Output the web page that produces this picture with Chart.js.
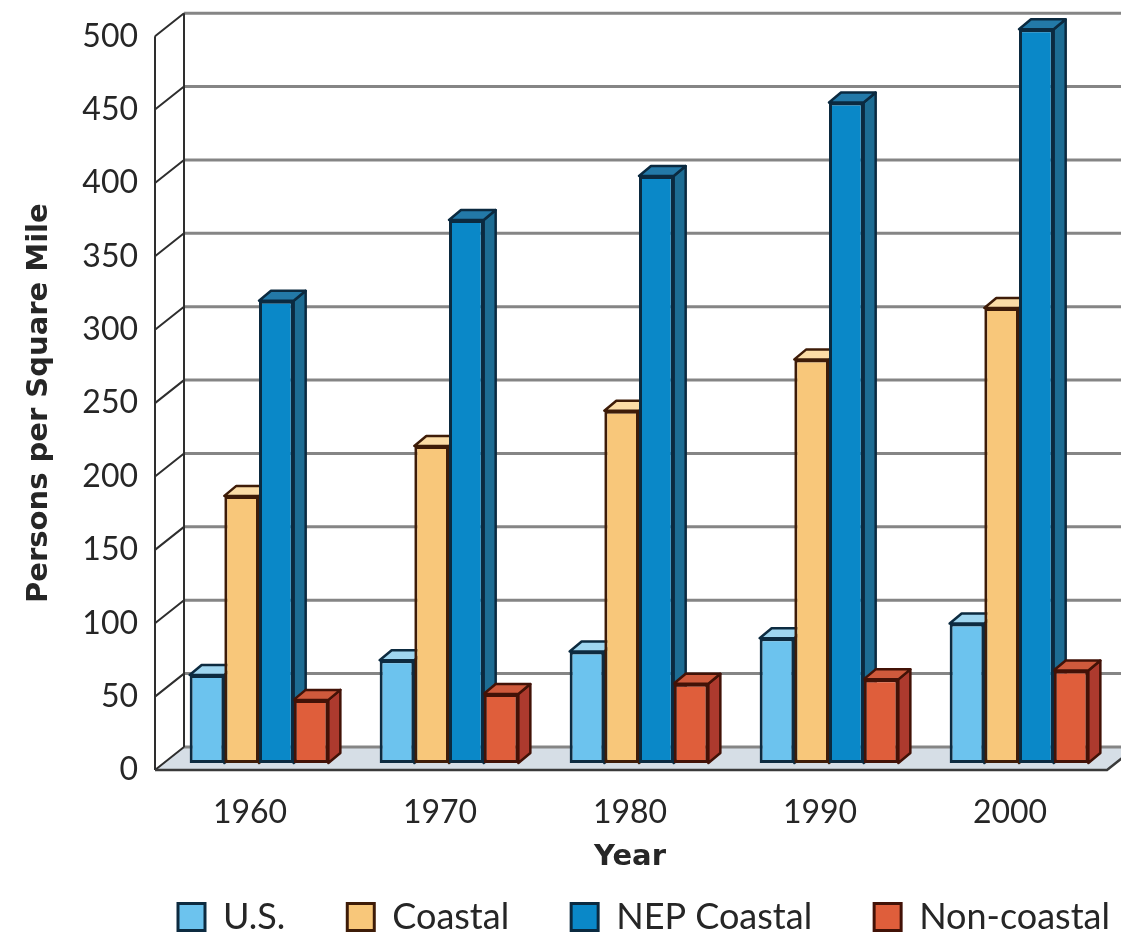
<!DOCTYPE html>
<html>
<head>
<meta charset="utf-8">
<script src="https://cdn.jsdelivr.net/npm/chart.js@4.4.1/dist/chart.umd.min.js"></script>
<style>
  html, body { margin: 0; padding: 0; background: #ffffff; }
  #wrap { width: 1121px; height: 948px; position: relative; }
</style>
</head>
<body>
<div id="wrap"><canvas id="c"></canvas></div>
<script>
// Population density, persons per square mile
const years = ['1960', '1970', '1980', '1990', '2000'];
const usDensity = [60, 70, 76, 85, 95];
const coastalDensity = [182, 216, 240, 275, 310];
const nepCoastalDensity = [315, 370, 400, 450, 500];
const nonCoastalDensity = [43, 47, 54, 57, 63];
const yTickValues = [0, 50, 100, 150, 200, 250, 300, 350, 400, 450, 500];

// Face colours for each series: front, top, side, outline
const palette = {
  us:         { front: '#6cc3ee', top: '#9fd6f0', side: '#4a9fca', line: '#0d2b40' },
  coastal:    { front: '#f8c77a', top: '#fbdca6', side: '#d9a45a', line: '#3e1c08' },
  nepCoastal: { front: '#0a88c8', top: '#2379a8', side: '#1d6c93', line: '#0b2a40' },
  nonCoastal: { front: '#df5e3b', top: '#cf5a3c', side: '#ad3a2e', line: '#421207' }
};

// Pseudo-3D geometry (pixels)
const BAR_SHIFT = { x: 9, y: -7 };     // bar plane behind the front axis plane
const WALL_DEPTH = { x: 29, y: -23 };  // back wall behind the front axis plane
const BAR_DEPTH = { x: 12, y: -10 };   // thickness of each bar
const LEGEND_START = 178;              // left edge of the first legend box

function poly(ctx, pts) {
  ctx.beginPath();
  ctx.moveTo(pts[0][0], pts[0][1]);
  for (let i = 1; i < pts.length; i++) ctx.lineTo(pts[i][0], pts[i][1]);
  ctx.closePath();
}

const box3d = {
  id: 'box3d',
  afterLayout(chart) {
    // slide the legend row so it sits under the plot rather than the canvas centre
    const lg = chart.legend;
    if (!lg || !lg.lineWidths || !lg.lineWidths.length) return;
    const p = lg.options.labels.padding;
    const start = (lg.left + p + lg.right - lg.lineWidths[0]) / 2;
    const dx = LEGEND_START - start;
    lg.left += dx;
    lg.right += dx;
  },
  beforeDatasetsDraw(chart) {
    const ctx = chart.ctx;
    const { left, right } = chart.chartArea;
    const y = chart.scales.y;
    const wx = WALL_DEPTH.x, wy = WALL_DEPTH.y;
    const y0 = y.getPixelForValue(0);
    const yTop = y.getPixelForValue(yTickValues[yTickValues.length - 1]);

    ctx.save();
    // floor
    poly(ctx, [[left, y0], [right + 2, y0], [right + 2 + wx, y0 + wy], [left + wx, y0 + wy]]);
    ctx.fillStyle = '#d6dee6';
    ctx.fill();

    // back wall grid lines
    ctx.strokeStyle = '#858585';
    ctx.lineWidth = 3;
    yTickValues.forEach(v => {
      const py = y.getPixelForValue(v) + wy;
      ctx.beginPath();
      ctx.moveTo(left + wx, py);
      ctx.lineTo(chart.width, py);
      ctx.stroke();
    });

    // left wall: front edge, back edge and slanted tick lines
    ctx.strokeStyle = '#2e2e2e';
    ctx.lineWidth = 2;
    ctx.beginPath();
    ctx.moveTo(left, yTop); ctx.lineTo(left, y0);
    ctx.moveTo(left + wx, yTop + wy); ctx.lineTo(left + wx, y0 + wy);
    yTickValues.forEach(v => {
      const py = y.getPixelForValue(v);
      ctx.moveTo(left, py);
      ctx.lineTo(left + wx, py + wy);
    });
    ctx.stroke();

    // floor front and right edges
    ctx.lineWidth = 2.5;
    ctx.strokeStyle = '#3a3a3a';
    ctx.beginPath();
    ctx.moveTo(left, y0);
    ctx.lineTo(right + 2, y0);
    ctx.lineTo(right + 2 + wx, y0 + wy);
    ctx.stroke();
    ctx.restore();

    // bars sit slightly behind the front plane
    ctx.save();
    ctx.translate(BAR_SHIFT.x, BAR_SHIFT.y);

    // side and top faces, drawn left to right inside each year group
    const metas = chart.getSortedVisibleDatasetMetas();
    const bx = BAR_DEPTH.x, by = BAR_DEPTH.y;
    for (let i = 0; i < years.length; i++) {
      metas.forEach(meta => {
        const ds = chart.data.datasets[meta.index];
        const el = meta.data[i];
        const p = el.getProps(['x', 'y', 'base', 'width'], true);
        const xl = p.x - p.width / 2, xr = p.x + p.width / 2;
        const yt = Math.min(p.y, p.base), yb = Math.max(p.y, p.base);
        ctx.lineWidth = 2.5;
        ctx.lineJoin = 'round';
        ctx.strokeStyle = ds.faces.line;
        poly(ctx, [[xr, yt], [xr + bx, yt + by], [xr + bx, yb + by], [xr, yb]]);
        ctx.fillStyle = ds.faces.side;
        ctx.fill(); ctx.stroke();
        poly(ctx, [[xl, yt], [xr, yt], [xr + bx, yt + by], [xl + bx, yt + by]]);
        ctx.fillStyle = ds.faces.top;
        ctx.fill(); ctx.stroke();
      });
    }
  },
  afterDatasetsDraw(chart) {
    chart.ctx.restore();
  }
};

function series(label, data, faces) {
  return {
    label,
    data,
    faces,
    backgroundColor: faces.front,
    borderColor: faces.line,
    borderWidth: 3,
    borderSkipped: false,
    categoryPercentage: 0.73,
    barPercentage: 1.0,
    clip: false
  };
}

const textColor = '#262626';
const titleFont = { family: 'DejaVu Sans', size: 29, weight: 'bold' };

new Chart(document.getElementById('c'), {
  type: 'bar',
  data: {
    labels: years,
    datasets: [
      series('U.S.', usDensity, palette.us),
      series('Coastal', coastalDensity, palette.coastal),
      series('NEP Coastal', nepCoastalDensity, palette.nepCoastal),
      series('Non-coastal', nonCoastalDensity, palette.nonCoastal)
    ]
  },
  options: {
    responsive: true,
    maintainAspectRatio: false,
    animation: false,
    layout: { padding: { top: 35, right: 16, bottom: 3, left: 0 } },
    plugins: {
      tooltip: { enabled: false },
      legend: {
        position: 'bottom',
        labels: {
          color: textColor,
          font: { family: 'Lato', size: 36 },
          boxWidth: 27,
          boxHeight: 27,
          padding: 62
        }
      }
    },
    scales: {
      x: {
        grid: { display: false, drawTicks: false },
        border: { display: false },
        ticks: { color: textColor, font: { family: 'Lato', size: 32 }, padding: 23 },
        title: {
          display: true,
          text: 'Year',
          color: textColor,
          font: titleFont,
          padding: { top: 0, bottom: -38 }
        },
        afterFit(scale) { scale.height = 67; }
      },
      y: {
        min: 0,
        max: 500,
        grid: { display: false, drawTicks: false },
        border: { display: false },
        afterBuildTicks(scale) { scale.ticks = yTickValues.map(v => ({ value: v })); },
        ticks: { color: textColor, font: { family: 'Lato', size: 32 }, padding: 17 },
        title: {
          display: true,
          text: 'Persons per Square Mile',
          color: textColor,
          font: titleFont,
          padding: { top: 22, bottom: 0 }
        },
        afterFit(scale) { scale.width = 155; }
      }
    }
  },
  plugins: [box3d]
});
</script>
</body>
</html>
